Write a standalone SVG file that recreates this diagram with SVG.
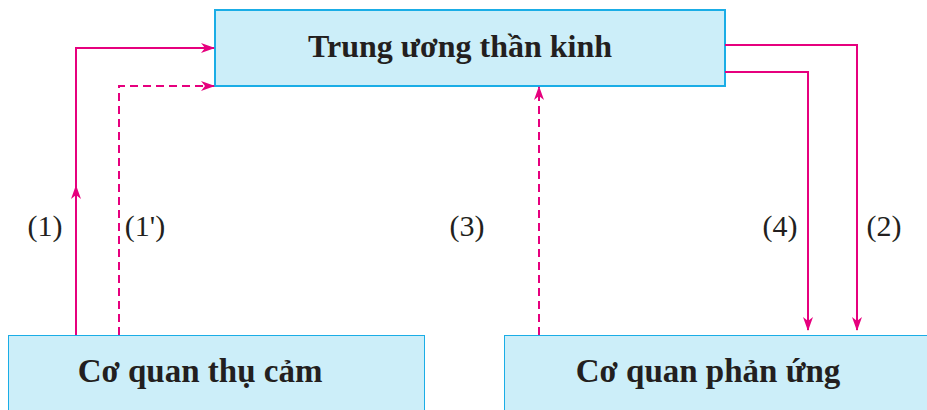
<svg xmlns="http://www.w3.org/2000/svg" width="927" height="410" viewBox="0 0 927 410">
<style>
.box{fill:#CCEEF9;stroke:#1AADE6}
.title{font-family:"Liberation Serif","Times New Roman",serif;font-weight:bold;font-size:32px;fill:#231F20;text-anchor:middle}
.big{font-size:33px}
.lbl{font-family:"Liberation Serif","Times New Roman",serif;font-size:30px;fill:#231F20;text-anchor:middle}
.ln{fill:none;stroke:#E6007E;stroke-width:2}
.dash{stroke-dasharray:8 5}
</style>
<defs>
<marker id="ah" viewBox="0 0 14 10" refX="13" refY="5" markerWidth="14" markerHeight="10" markerUnits="userSpaceOnUse" orient="auto">
<path d="M0,0 L14,5 L0,10 L4,5 Z" fill="#E6007E"/>
</marker>
</defs>
<g id="center">
<rect class="box" x="215" y="10" width="510" height="76" stroke-width="2"/>
<text class="title" x="460" y="57">Trung ương thần kinh</text>
</g>
<g id="receptor">
<rect class="box" x="8.5" y="335.5" width="416" height="80" stroke-width="1"/>
<text class="title big" x="200" y="382">Cơ quan thụ cảm</text>
</g>
<g id="effector">
<rect class="box" x="504.5" y="335.5" width="430" height="80" stroke-width="1"/>
<text class="title big" x="708" y="382">Cơ quan phản ứng</text>
</g>
<g id="connectors">
<path class="ln" d="M76,335 V48 H214" marker-end="url(#ah)"/>
<path class="ln" d="M76,260 V186" marker-end="url(#ah)"/>
<path class="ln dash" d="M119,335 V86 H214" marker-end="url(#ah)"/>
<path class="ln dash" d="M539,335 V87" marker-end="url(#ah)"/>
<path class="ln" d="M725,45 H857 V330" marker-end="url(#ah)"/>
<path class="ln" d="M725,72 H808 V330" marker-end="url(#ah)"/>
</g>
<g id="labels">
<text class="lbl" x="45" y="236">(1)</text>
<text class="lbl" x="145" y="236">(1')</text>
<text class="lbl" x="467" y="236">(3)</text>
<text class="lbl" x="780" y="236">(4)</text>
<text class="lbl" x="884" y="236">(2)</text>
</g>
</svg>
